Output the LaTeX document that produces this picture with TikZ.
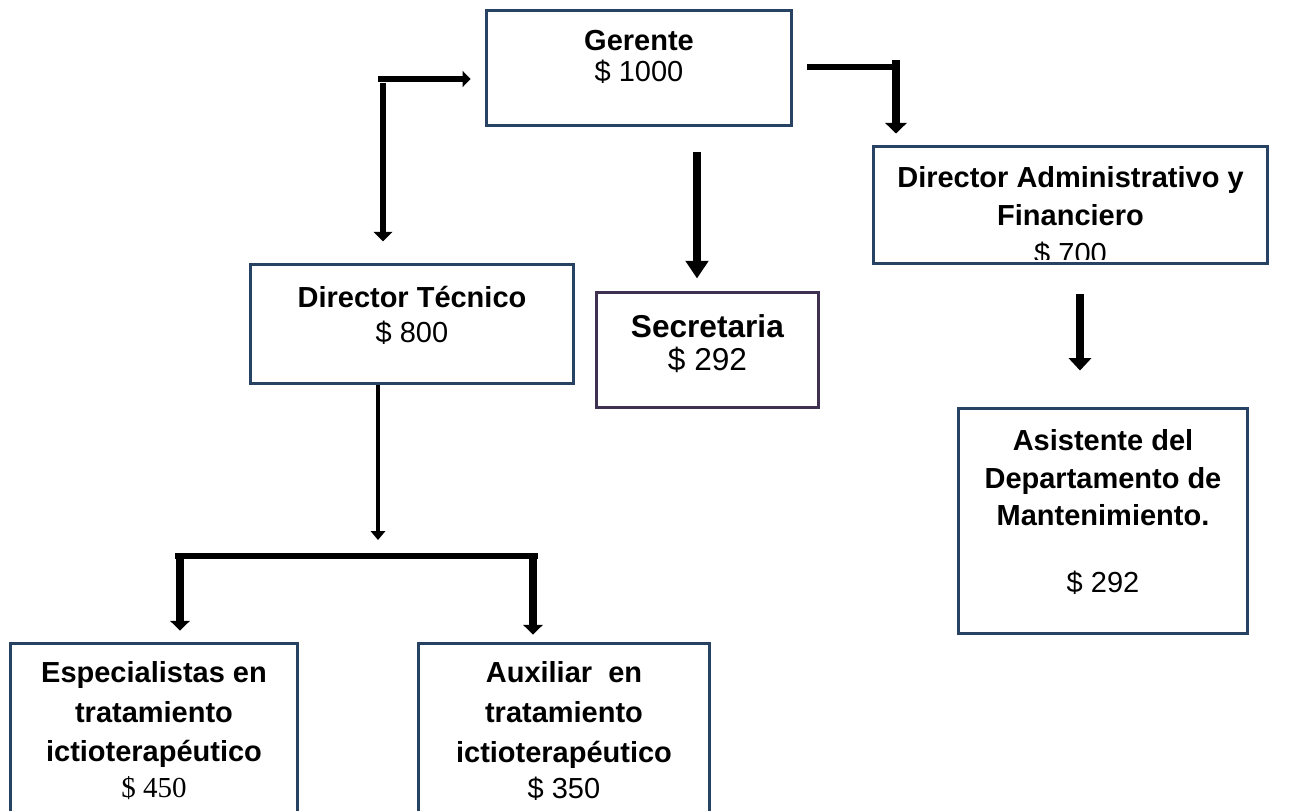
\documentclass[tikz,border=0pt]{standalone}
\usepackage{fontspec}
\setmainfont{Liberation Sans}
\newfontfamily\timesfont{Liberation Serif}
\usetikzlibrary{arrows.meta,positioning,calc}
\definecolor{boxblue}{RGB}{40,66,100}
\definecolor{boxpurple}{RGB}{63,49,81}
\tikzset{
  puesto/.style={draw=boxblue, line width=1.7pt, rectangle, inner sep=0pt},
  lbl/.style={align=center, inner sep=0pt, font=\fontsize{16.5}{20}\selectfont},
  flow/.style={line width=3.4pt, -{Triangle[width=10.5pt,length=5.5pt]}},
  bar/.style={line width=3.4pt},
}

\begin{document}
\begin{tikzpicture}[x=0.02cm, y=-0.02cm]
\clip (0,0) rectangle (1296,811);

% cajas
\node[puesto, minimum width=6.12cm, minimum height=2.32cm] (ger) at (639,68) {};
\node[puesto, minimum width=7.9cm, minimum height=2.36cm] (dad) at (1070.5,205) {};
\node[puesto, minimum width=6.48cm, minimum height=2.4cm] (dtec) at (412,324) {};
\node[puesto, draw=boxpurple, minimum width=4.46cm, minimum height=2.32cm] (sec) at (707.5,350) {};
\node[puesto, minimum width=5.8cm, minimum height=4.52cm] (asis) at (1103,521) {};
\node[puesto, minimum width=5.76cm, minimum height=4cm] (esp) at (154,743) {};
\node[puesto, minimum width=5.84cm, minimum height=4cm] (aux) at (564,743) {};

% textos
\node[lbl, font=\fontsize{16.5}{18}\selectfont] (gert) at (639,57) {\textbf{Gerente}\\\$ 1000};
\begin{scope}
  \clip ([yshift=0.12cm]dad.south west) rectangle (dad.north east);
  \node[lbl, font=\fontsize{16.5}{21.5}\selectfont] (dadt) at (1070.5,216) {\textbf{Director Administrativo y}\\\textbf{Financiero}\\\$ 700};
\end{scope}
\node[lbl] (dtect) at (412,315) {\textbf{Director Técnico}\\\$ 800};
\node[lbl, font=\fontsize{18}{18.7}\selectfont] (sect) at (707.5,344) {\textbf{Secretaria}\\\$ 292};
\node[lbl, font=\fontsize{16.5}{21.5}\selectfont] (asist) at (1103,512) {\textbf{Asistente del}\\\textbf{Departamento de}\\\textbf{Mantenimiento.}\\[16.5pt]\$ 292};
\node[lbl, font=\fontsize{16.5}{22.5}\selectfont] (espt) at (154,731) {\textbf{Especialistas en}\\\textbf{tratamiento}\\\textbf{ictioterapéutico}\\[-2pt]{\timesfont\$ 450}};
\node[lbl, font=\fontsize{16.5}{22.5}\selectfont] (auxt) at (564,731) {\textbf{Auxiliar\ \ en}\\\textbf{tratamiento}\\\textbf{ictioterapéutico}\\[-2pt]\$ 350};

% conectores
\coordinate (lc) at (378,79);
\coordinate (lv) at (383,83);
\draw[flow, -{Triangle[width=9pt,length=4.5pt]}] (lc) -- ([xshift=-0.28cm]ger.west |- lc);
\draw[flow] (lv) -- ([yshift=0.42cm]dtec.north -| lv);

\coordinate (rc) at (896,67);
\draw[bar] ([xshift=0.28cm]ger.east |- rc) -- ([xshift=0.08cm]rc);
\draw[flow, line width=4pt, -{Triangle[width=12pt,length=6pt]}] ([yshift=0.14cm]rc) -- ([yshift=0.22cm]dad.north -| rc);

\coordinate (mt) at ($(ger.south)+(58,25)$);
\draw[flow, line width=4pt, -{Triangle[width=12.5pt,length=10pt]}] (mt) -- ([yshift=0.24cm]sec.north -| mt);

\coordinate (rt) at ($(dad.south)+(9.5,29)$);
\draw[flow, line width=5.1pt, -{Triangle[width=12.5pt,length=7pt]}] (rt) -- ([yshift=0.72cm]asis.north -| rt);

\coordinate (bl) at (175,556);
\coordinate (br) at (538,556);
\coordinate (bt) at (378,556);
\coordinate (blv) at (180,559);
\coordinate (brv) at (533,559);
\draw[flow, line width=2.8pt, -{Triangle[width=8pt,length=5pt]}] (dtec.south -| bt) -- ([yshift=0.32cm]bt);
\draw[bar] (bl) -- (br);
\draw[flow, line width=4pt, -{Triangle[width=11pt,length=5.5pt]}] (blv) -- ([yshift=0.22cm]esp.north -| blv);
\draw[flow, line width=4pt, -{Triangle[width=11pt,length=5.5pt]}] (brv) -- ([yshift=0.14cm]aux.north -| brv);
\end{tikzpicture}
\end{document}
